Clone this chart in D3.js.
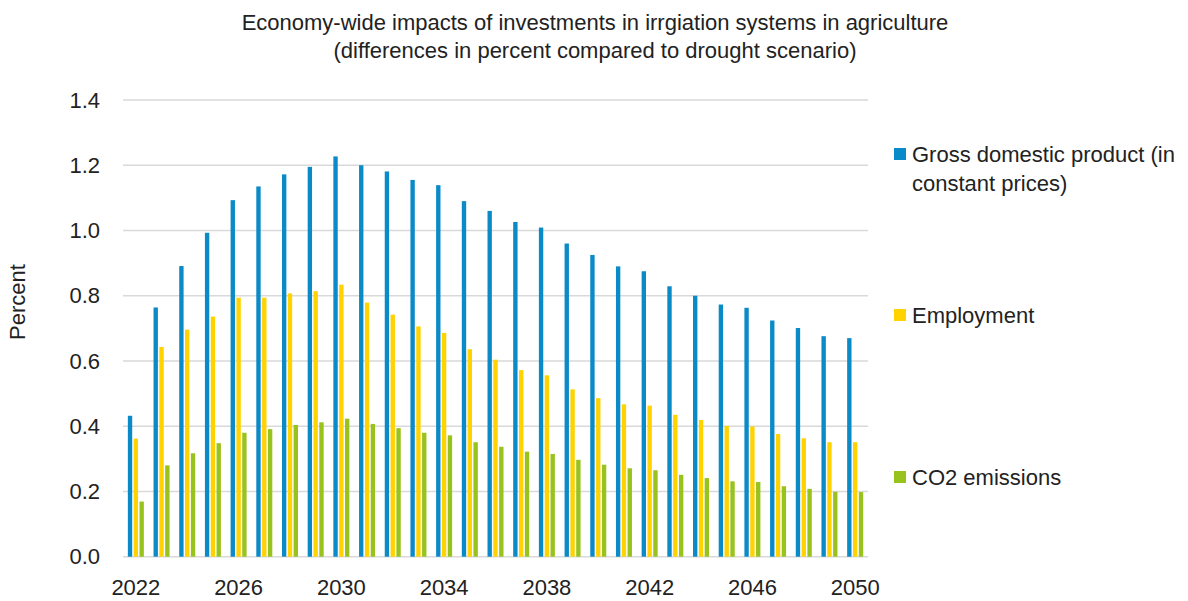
<!DOCTYPE html>
<html>
<head>
<meta charset="utf-8">
<script src="https://cdn.jsdelivr.net/npm/d3@7"></script>
<style>
  html, body { margin: 0; padding: 0; background: #fff; }
  svg { display: block; font-family: "Liberation Sans", Arial, sans-serif; }
</style>
</head>
<body>
<svg id="chart" width="1188" height="601"></svg>
<script>
const years = d3.range(2022, 2051).map(String);
const tickYears = ["2022","2026","2030","2034","2038","2042","2046","2050"];
const yTicks = [0, 0.2, 0.4, 0.6, 0.8, 1.0, 1.2, 1.4];
const seriesNames = ["Gross domestic product (in constant prices)", "Employment", "CO2 emissions"];
const gdp = [0.432,0.764,0.891,0.993,1.093,1.135,1.172,1.195,1.227,1.200,1.181,1.155,1.139,1.090,1.060,1.026,1.009,0.960,0.925,0.890,0.875,0.829,0.800,0.773,0.763,0.724,0.701,0.676,0.670];
const employment = [0.362,0.643,0.696,0.736,0.794,0.794,0.807,0.814,0.834,0.779,0.742,0.706,0.686,0.636,0.604,0.572,0.556,0.513,0.486,0.467,0.463,0.435,0.419,0.401,0.399,0.376,0.363,0.351,0.351];
const co2 = [0.169,0.280,0.317,0.348,0.380,0.391,0.404,0.412,0.423,0.407,0.394,0.380,0.372,0.351,0.337,0.322,0.315,0.297,0.282,0.271,0.265,0.251,0.241,0.231,0.229,0.216,0.208,0.199,0.198];
const colors = ["#0a8bc8", "#ffd200", "#98c21c"];
const seriesValues = [gdp, employment, co2];

const svg = d3.select("#chart");
const mLeft = 123, mRight = 868, mTop = 100, mBottom = 556.7;
const fs = 22;

const x = d3.scaleBand().domain(years).range([mLeft, mRight]).paddingInner(0).paddingOuter(0);
const xs = d3.scaleBand().domain([0,1,2])
  .range([x.bandwidth()/2 - 8, x.bandwidth()/2 + 8]).paddingInner(0.25).paddingOuter(0);
const y = d3.scaleLinear().domain([0, 1.4]).range([mBottom, mTop]);

// Title
const title = svg.append("text").attr("text-anchor", "middle").attr("font-size", fs).attr("fill", "#222");
title.append("tspan").attr("x", 595).attr("y", 30).text("Economy-wide impacts of investments in irrgiation systems in agriculture");
title.append("tspan").attr("x", 595).attr("y", 58).text("(differences in percent compared to drought scenario)");

// Gridlines
svg.append("g").selectAll("line").data(yTicks).join("line")
  .attr("x1", mLeft).attr("x2", mRight)
  .attr("y1", d => y(d)).attr("y2", d => y(d))
  .attr("stroke", "#d9d9d9").attr("stroke-width", 1.5);

// Y axis
const yAxis = d3.axisLeft(y).tickValues(yTicks).tickFormat(d3.format(".1f")).tickSize(0).tickPadding(23);
const gy = svg.append("g").attr("transform", `translate(${mLeft},0)`).call(yAxis);
gy.select(".domain").remove();
gy.selectAll("text").attr("font-size", fs).attr("fill", "#222").attr("font-family", "Liberation Sans, Arial, sans-serif");

// X axis
const xAxis = d3.axisBottom(x).tickValues(tickYears).tickSize(0).tickPadding(23);
const gx = svg.append("g").attr("transform", `translate(0,${mBottom})`).call(xAxis);
gx.select(".domain").remove();
gx.selectAll("text").attr("font-size", fs).attr("fill", "#222").attr("font-family", "Liberation Sans, Arial, sans-serif");

// Bars
const groups = svg.append("g").selectAll("g").data(years).join("g")
  .attr("transform", d => `translate(${x(d)},0)`);
groups.selectAll("rect").data((d, i) => seriesValues.map((s, k) => ({k, v: s[i]}))).join("rect")
  .attr("x", d => xs(d.k)).attr("width", xs.bandwidth())
  .attr("y", d => y(d.v)).attr("height", d => y(0) - y(d.v))
  .attr("fill", d => colors[d.k]);

// Y label
svg.append("text").attr("transform", "translate(25,302) rotate(-90)")
  .attr("text-anchor", "middle").attr("font-size", fs).attr("fill", "#222").text("Percent");

// Legend
const legendItems = [
  {lines: ["Gross domestic product (in", "constant prices)"], y: 162},
  {lines: ["Employment"], y: 323},
  {lines: ["CO2 emissions"], y: 485}
];
const lg = svg.append("g");
legendItems.forEach((it, k) => {
  lg.append("rect").attr("x", 894).attr("y", it.y - 14).attr("width", 12).attr("height", 12).attr("fill", colors[k]);
  const t = lg.append("text").attr("font-size", fs).attr("fill", "#222");
  it.lines.forEach((ln, j) => t.append("tspan").attr("x", 912).attr("y", it.y + j * 29).text(ln));
});
</script>
</body>
</html>
